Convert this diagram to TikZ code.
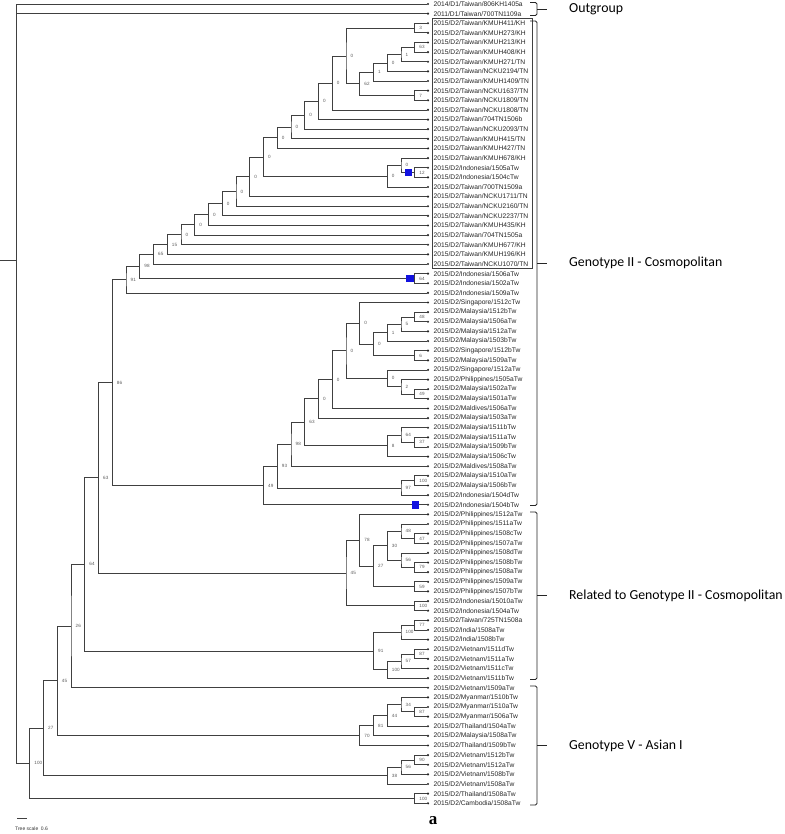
\documentclass[tikz,border=0pt]{standalone}
\usepackage{fontspec}
\setmainfont{Liberation Sans}
\newfontfamily\grpfont{Carlito}
\newfontfamily\serfont{Liberation Serif}
\usepackage{tikz}
\usetikzlibrary{calc}
\definecolor{qblue}{RGB}{18,18,224}

\tikzset{
  br/.style={draw=black!75,line width=0.8pt},
  tip/.style={circle,fill=black!85,inner sep=0pt,minimum size=2.4pt},
  lbl/.style={anchor=west,inner sep=0.5pt,text=black!85,font=\fontsize{6.7}{7}\selectfont},
  bs/.style={anchor=west,inner sep=0pt,text=black!65,font=\fontsize{4.6}{5}\selectfont},
  bq/.style={fill=qblue,inner sep=0pt,minimum size=7.5pt},
  brk/.style={draw=black!85,line width=0.8pt,rounded corners=1.5pt},
  grp/.style={anchor=west,inner sep=0pt,font=\grpfont\fontsize{13.8}{16}\selectfont}
}

% join two children: name, depth, child a, child b, support
\newcommand{\jn}[5]{%
  \path let \p1=(#3), \p2=(#4) in coordinate (#1) at ({16+13.75*#2},{0.5*(\y1+\y2)});
  \draw[br] (#3) -| (#1) |- (#4);
  \node[bs] (b#1) at ([xshift=4.5pt]#1) {#5};
}
% group bracket: name, top, bottom, text
\newcommand{\grpbr}[4]{%
  \draw[brk] (530,#2) -- (537,#2) -- (537,#3) -- (530,#3);
  \draw[brk] (537,{(#2+#3)/2}) -- (547,{(#2+#3)/2});
  \node[grp] (#1) at (569,{(#2+#3)/2}) {#4};
}

\begin{document}
\begin{tikzpicture}[x=1pt,y=-1pt]
  \useasboundingbox (0,0) rectangle (784,834);

  % leaves
  \foreach \lab [count=\i from 0] in {
    2014/D1/Taiwan/806KH1405a, 2011/D1/Taiwan/700TN1109a,
    2015/D2/Taiwan/KMUH411/KH, 2015/D2/Taiwan/KMUH273/KH,
    2015/D2/Taiwan/KMUH213/KH, 2015/D2/Taiwan/KMUH408/KH,
    2015/D2/Taiwan/KMUH271/TN, 2015/D2/Taiwan/NCKU2194/TN,
    2015/D2/Taiwan/KMUH1409/TN, 2015/D2/Taiwan/NCKU1637/TN,
    2015/D2/Taiwan/NCKU1809/TN, 2015/D2/Taiwan/NCKU1808/TN,
    2015/D2/Taiwan/704TN1506b, 2015/D2/Taiwan/NCKU2093/TN,
    2015/D2/Taiwan/KMUH415/TN, 2015/D2/Taiwan/KMUH427/TN,
    2015/D2/Taiwan/KMUH678/KH, 2015/D2/Indonesia/1505aTw,
    2015/D2/Indonesia/1504cTw, 2015/D2/Taiwan/700TN1509a,
    2015/D2/Taiwan/NCKU1711/TN, 2015/D2/Taiwan/NCKU2160/TN,
    2015/D2/Taiwan/NCKU2237/TN, 2015/D2/Taiwan/KMUH435/KH,
    2015/D2/Taiwan/704TN1505a, 2015/D2/Taiwan/KMUH677/KH,
    2015/D2/Taiwan/KMUH196/KH, 2015/D2/Taiwan/NCKU1070/TN,
    2015/D2/Indonesia/1506aTw, 2015/D2/Indonesia/1502aTw,
    2015/D2/Indonesia/1509aTw, 2015/D2/Singapore/1512cTw,
    2015/D2/Malaysia/1512bTw, 2015/D2/Malaysia/1506aTw,
    2015/D2/Malaysia/1512aTw, 2015/D2/Malaysia/1503bTw,
    2015/D2/Singapore/1512bTw, 2015/D2/Malaysia/1509aTw,
    2015/D2/Singapore/1512aTw, 2015/D2/Philippines/1505aTw,
    2015/D2/Malaysia/1502aTw, 2015/D2/Malaysia/1501aTw,
    2015/D2/Maldives/1506aTw, 2015/D2/Malaysia/1503aTw,
    2015/D2/Malaysia/1511bTw, 2015/D2/Malaysia/1511aTw,
    2015/D2/Malaysia/1509bTw, 2015/D2/Malaysia/1506cTw,
    2015/D2/Maldives/1508aTw, 2015/D2/Malaysia/1510aTw,
    2015/D2/Malaysia/1506bTw, 2015/D2/Indonesia/1504dTw,
    2015/D2/Indonesia/1504bTw, 2015/D2/Philippines/1512aTw,
    2015/D2/Philippines/1511aTw, 2015/D2/Philippines/1508cTw,
    2015/D2/Philippines/1507aTw, 2015/D2/Philippines/1508dTw,
    2015/D2/Philippines/1508bTw, 2015/D2/Philippines/1508aTw,
    2015/D2/Philippines/1509aTw, 2015/D2/Philippines/1507bTw,
    2015/D2/Indonesia/15010aTw, 2015/D2/Indonesia/1504aTw,
    2015/D2/Taiwan/725TN1508a, 2015/D2/India/1508aTw,
    2015/D2/India/1508bTw, 2015/D2/Vietnam/1511dTw,
    2015/D2/Vietnam/1511aTw, 2015/D2/Vietnam/1511cTw,
    2015/D2/Vietnam/1511bTw, 2015/D2/Vietnam/1509aTw,
    2015/D2/Myanmar/1510bTw, 2015/D2/Myanmar/1510aTw,
    2015/D2/Myanmar/1506aTw, 2015/D2/Thailand/1504aTw,
    2015/D2/Malaysia/1508aTw, 2015/D2/Thailand/1509bTw,
    2015/D2/Vietnam/1512bTw, 2015/D2/Vietnam/1512aTw,
    2015/D2/Vietnam/1508bTw, 2015/D2/Vietnam/1508aTw,
    2015/D2/Thailand/1508aTw, 2015/D2/Cambodia/1508aTw} {
    \node[tip] (l\i) at (428,{4+9.63*\i}) {};
    \node[lbl] (t\i) at (433,{4+9.63*\i}) {\lab};
  }

  % Taiwan clade
  \jn{c3}{29}{l2}{l3}{3}
  \jn{c63}{29}{l4}{l5}{63}
  \jn{c1a}{28}{c63}{l6}{1}
  \jn{c0a}{27}{c1a}{l7}{0}
  \jn{c1b}{26}{c0a}{l8}{1}
  \jn{c7}{29}{l9}{l10}{7}
  \jn{c62}{25}{c1b}{c7}{62}
  \jn{c0b}{24}{c3}{c62}{0}
  \jn{c0c}{23}{c0b}{l11}{0}
  \jn{c0d}{22}{c0c}{l12}{0}
  \jn{c0e}{21}{c0d}{l13}{0}
  \jn{c0f}{20}{c0e}{l14}{0}
  \jn{c0g}{19}{c0f}{l15}{0}
  \jn{c12}{29}{l17}{l18}{12}
  \jn{c0h}{28}{l16}{c12}{0}
  \jn{c0i}{27}{c0h}{l19}{0}
  \jn{c0j}{18}{c0g}{c0i}{0}
  \jn{c0k}{17}{c0j}{l20}{0}
  \jn{c0l}{16}{c0k}{l21}{0}
  \jn{c0m}{15}{c0l}{l22}{0}
  \jn{c0n}{14}{c0m}{l23}{0}
  \jn{c0o}{13}{c0n}{l24}{0}
  \jn{c0p}{12}{c0o}{l25}{0}
  \jn{c15}{11}{c0p}{l26}{15}
  \jn{c65}{10}{c15}{l27}{65}
  \jn{c64}{29}{l28}{l29}{64}
  \jn{c98}{9}{c65}{c64}{98}
  \jn{c91}{8}{c98}{l30}{91}

  % Malaysia clade
  \jn{m48}{29}{l32}{l33}{48}
  \jn{m5}{28}{m48}{l34}{5}
  \jn{m1}{27}{m5}{l35}{1}
  \jn{m6}{29}{l36}{l37}{6}
  \jn{m0a}{26}{m1}{m6}{0}
  \jn{m0b}{25}{l31}{m0a}{0}
  \jn{m49}{29}{l40}{l41}{49}
  \jn{m2}{28}{l39}{m49}{2}
  \jn{m0c}{27}{l38}{m2}{0}
  \jn{m0d}{24}{m0b}{m0c}{0}
  \jn{m0e}{23}{m0d}{l42}{0}
  \jn{m0f}{22}{m0e}{l43}{0}
  \jn{m37}{29}{l45}{l46}{37}
  \jn{m64}{28}{l44}{m37}{64}
  \jn{m8}{27}{m64}{l47}{8}
  \jn{m63}{21}{m0f}{m8}{63}
  \jn{m98}{20}{m63}{l48}{98}
  \jn{m100}{29}{l49}{l50}{100}
  \jn{m97}{28}{m100}{l51}{97}
  \jn{m93}{19}{m98}{m97}{93}
  \jn{m49b}{18}{m93}{l52}{49}
  \jn{r86}{7}{c91}{m49b}{86}

  % Philippines clade
  \jn{p47}{29}{l55}{l56}{47}
  \jn{p48}{28}{l54}{p47}{48}
  \jn{p79}{29}{l58}{l59}{79}
  \jn{p56}{28}{l57}{p79}{56}
  \jn{p30}{27}{p48}{p56}{30}
  \jn{p59}{29}{l60}{l61}{59}
  \jn{p27}{26}{p30}{p59}{27}
  \jn{p78}{25}{l53}{p27}{78}
  \jn{p100}{29}{l62}{l63}{100}
  \jn{p45}{24}{p78}{p100}{45}
  \jn{r63}{6}{r86}{p45}{63}

  % India / Vietnam
  \jn{v77}{29}{l64}{l65}{77}
  \jn{v100a}{28}{v77}{l66}{100}
  \jn{v87}{29}{l67}{l68}{87}
  \jn{v57}{28}{v87}{l69}{57}
  \jn{v100b}{27}{v57}{l70}{100}
  \jn{v91}{26}{v100a}{v100b}{91}
  \jn{r64}{5}{r63}{v91}{64}
  \jn{r26}{4}{r64}{l71}{26}

  % Asian I
  \jn{a87}{29}{l73}{l74}{87}
  \jn{a34}{28}{l72}{a87}{34}
  \jn{a44}{27}{a34}{l75}{44}
  \jn{a81}{26}{a44}{l76}{81}
  \jn{a70}{25}{a81}{l77}{70}
  \jn{r45}{3}{r26}{a70}{45}
  \jn{a90}{29}{l78}{l79}{90}
  \jn{a56}{28}{a90}{l80}{56}
  \jn{a38}{27}{a56}{l81}{38}
  \jn{r27}{2}{r45}{a38}{27}
  \jn{a100}{29}{l82}{l83}{100}
  \jn{r100}{1}{r27}{a100}{100}

  % root
  \coordinate (root) at (16,260);
  \coordinate (stub) at (0,260);
  \draw[br] (l0) -| (root |- r100) -- (r100);
  \draw[br] (l1) -- (root |- l1);
  \draw[br] (stub) -- (root);

  % marked branches
  \node[bq] (q1) at ([xshift=-6.5pt]c12) {};
  \node[bq] (q2) at ([xshift=-5pt]c64) {};
  \node[bq] (q3) at ([xshift=-12.5pt]l52) {};

  % box round the Taiwan strains
  \draw[br] (432,18.5) rectangle (532,268.5);

  \grpbr{g1}{2.5}{15.5}{Outgroup}
  \grpbr{g2}{21}{505.5}{Genotype II - Cosmopolitan}
  \grpbr{g3}{512}{679.5}{Related to Genotype II - Cosmopolitan}
  \grpbr{g4}{686}{805}{Genotype V - Asian I}

  % scale and panel letter
  \draw[br] (17,818.5) -- (27,818.5);
  \node[anchor=west,inner sep=0pt,text=black!80,font=\fontsize{5}{6}\selectfont] (tscale) at (15,828.5) {Tree scale\enspace 0.6};
  \node[inner sep=0pt,font=\serfont\bfseries\fontsize{17}{17}\selectfont] (panel) at (433,821) {a};
\end{tikzpicture}
\end{document}
